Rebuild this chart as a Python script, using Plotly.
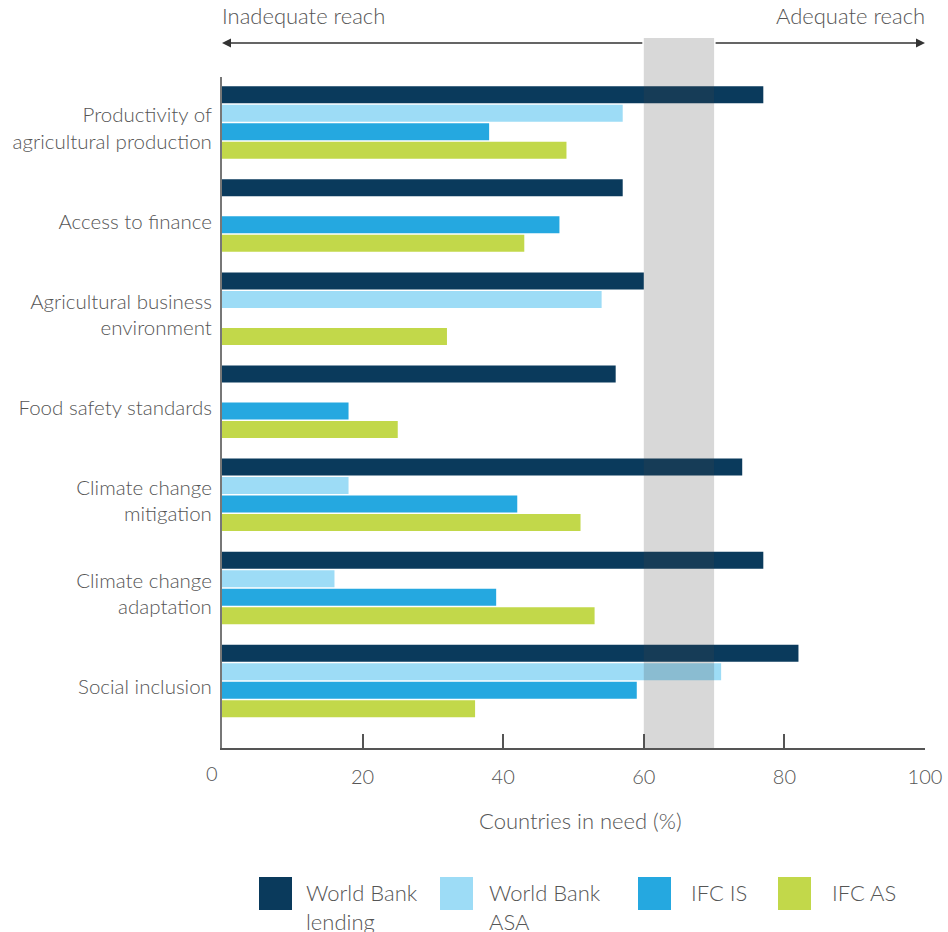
import plotly.graph_objects as go

categories = [
    "Productivity of<br>agricultural production",
    "Access to finance",
    "Agricultural business<br>environment",
    "Food safety standards",
    "Climate change<br>mitigation",
    "Climate change<br>adaptation",
    "Social inclusion",
]
series_names = ["World Bank lending", "World Bank ASA", "IFC IS", "IFC AS"]
legend_labels = ["World Bank<br>lending", "World Bank<br>ASA", "IFC IS", "IFC AS"]
wb_lending = [77, 57, 60, 56, 74, 77, 82]
wb_asa = [57, None, 54, None, 18, 16, 71]
ifc_is = [38, 48, None, 18, 42, 39, 59]
ifc_as = [49, 43, 32, 25, 51, 53, 36]
series_values = [wb_lending, wb_asa, ifc_is, ifc_as]
colors = ["#0a3a5c", "#9ddcf6", "#25a8e0", "#c2d84a"]
x_ticks = [20, 40, 60, 80, 100]
band = [60, 70]

FONT = "Lato Light, Lato"
TXT = "#555555"

fig = go.Figure()
for name, vals, col in zip(series_names, series_values, colors):
    fig.add_trace(go.Bar(y=categories, x=vals, name=name, orientation="h",
                         marker=dict(color=col, line=dict(width=0)),
                         showlegend=False))

W, H = 948, 932
L, R, T, B = 222, 23, 77, 184
pw, ph = W - L - R, H - T - B

def px_x(p):
    return (p - L) / pw

def px_y(p):
    return (H - B - p) / ph

fig.update_layout(
    width=W, height=H,
    margin=dict(l=L, r=R, t=T, b=B, autoexpand=False),
    paper_bgcolor="white", plot_bgcolor="white",
    barmode="group", bargap=0.205, bargroupgap=0.08,
    font=dict(family=FONT, size=21, color=TXT, weight=300),
)
fig.update_xaxes(range=[0, 100], tickvals=x_ticks, ticks="inside", ticklen=14,
                 tickwidth=2, tickcolor="#555555", showline=True, linewidth=2,
                 linecolor="#555555", showgrid=False, zeroline=False, automargin=False,
                 tickfont=dict(size=20, color=TXT), ticklabelstandoff=10)
fig.update_yaxes(range=[6.72, -0.489], showline=True, linewidth=2, linecolor="#777777",
                 showgrid=False, zeroline=False, ticks="", automargin=False,
                 tickfont=dict(size=20.5, color=TXT), ticklabelstandoff=4,
                 ticklabelshift=-6)

# shaded band (adequate threshold zone)
fig.add_shape(type="rect", xref="x", yref="paper", x0=band[0], x1=band[1],
              y0=0, y1=px_y(38), fillcolor="rgba(73,73,73,0.21)",
              line=dict(width=0), layer="above")

arrow_y = px_y(43)
fig.add_annotation(xref="x", yref="paper", x=0, y=arrow_y, ax=band[0], ay=0,
                   axref="x", ayref="pixel", showarrow=True, arrowhead=2,
                   arrowsize=1.2, arrowwidth=1.5, arrowcolor="#333333", text="")
fig.add_annotation(xref="x", yref="paper", x=100, y=arrow_y, ax=band[1], ay=0,
                   axref="x", ayref="pixel", showarrow=True, arrowhead=2,
                   arrowsize=1.2, arrowwidth=1.5, arrowcolor="#333333", text="")
fig.add_annotation(xref="x", yref="paper", x=0, y=px_y(15), text="Inadequate reach",
                   showarrow=False, xanchor="left", yanchor="middle", xshift=-2,
                   font=dict(size=22, color=TXT))
fig.add_annotation(xref="x", yref="paper", x=100, y=px_y(15), text="Adequate reach",
                   showarrow=False, xanchor="right", yanchor="middle", xshift=2,
                   font=dict(size=22, color=TXT))

# "0" tick label, set slightly left as in the reference
fig.add_annotation(xref="x", yref="paper", x=0, y=px_y(773), text="0",
                   showarrow=False, xanchor="center", yanchor="middle", xshift=-10,
                   font=dict(size=20, color=TXT))

# axis title
fig.add_annotation(xref="paper", yref="paper", x=px_x(580), y=px_y(820),
                   text="Countries in need (%)", showarrow=False,
                   xanchor="center", yanchor="middle", font=dict(size=22, color=TXT))

# custom legend with large swatches
sw_x = [259, 440, 638, 778]
txt_x = [304, 487, 689, 830]
for sx, tx, col, lab in zip(sw_x, txt_x, colors, legend_labels):
    fig.add_shape(type="rect", xref="paper", yref="paper",
                  x0=px_x(sx), x1=px_x(sx + 33), y0=px_y(910), y1=px_y(877),
                  fillcolor=col, line=dict(width=0))
    fig.add_annotation(xref="paper", yref="paper", x=px_x(tx), y=px_y(877),
                       text=lab, showarrow=False, xanchor="left", yanchor="top",
                       align="left", font=dict(size=22, color=TXT))

fig.write_html("out.html", config={"displayModeBar": False},
               post_script="document.body.style.margin='0';document.body.style.overflow='hidden';")
